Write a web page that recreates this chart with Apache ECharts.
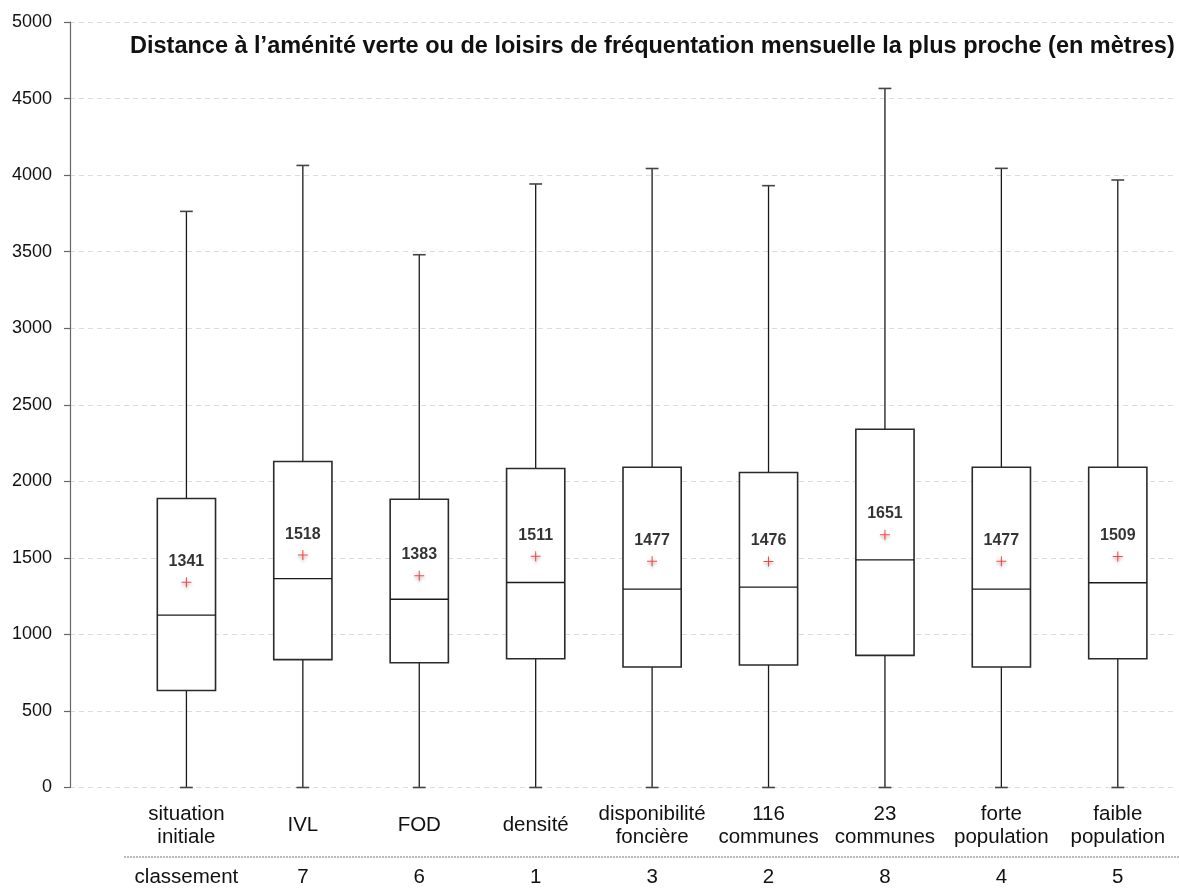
<!DOCTYPE html>
<html>
<head>
<meta charset="utf-8">
<script src="https://cdn.jsdelivr.net/npm/echarts@6/dist/echarts.min.js"></script>
<style>
  html, body { margin: 0; padding: 0; background: #fff; }
  #chart { width: 1179px; height: 888px; }
</style>
</head>
<body>
<div id="chart"></div>
<script>
// Scenario labels (x axis) and their ranking row
const categories = ['situation\ninitiale', 'IVL', 'FOD', 'densité', 'disponibilité\nfoncière',
                    '116\ncommunes', '23\ncommunes', 'forte\npopulation', 'faible\npopulation'];
const ranks = ['classement', '7', '6', '1', '3', '2', '8', '4', '5'];

// Box-plot statistics, distance in metres
const whiskerLow  = [0, 0, 0, 0, 0, 0, 0, 0, 0];
const q1          = [634, 835, 815, 841, 787, 800, 863, 787, 841];
const median      = [1126, 1364, 1230, 1339, 1296, 1309, 1487, 1296, 1337];
const q3          = [1888, 2129, 1883, 2084, 2092, 2057, 2340, 2092, 2092];
const whiskerHigh = [3763, 4063, 3480, 3942, 4043, 3931, 4566, 4044, 3968];
const mean        = [1341, 1518, 1383, 1511, 1477, 1476, 1651, 1477, 1509];

const yTicks = [0, 500, 1000, 1500, 2000, 2500, 3000, 3500, 4000, 4500, 5000];

const FONT = '"Liberation Sans", Arial, Helvetica, sans-serif';

const boxData = categories.map((c, i) => [i, whiskerLow[i], q1[i], median[i], q3[i], whiskerHigh[i]]);
const meanData = mean.map((m, i) => [i, m]);

function renderBox(params, api) {
  const x = api.value(0);
  const low = api.coord([x, api.value(1)]);
  const pq1 = api.coord([x, api.value(2)]);
  const pmed = api.coord([x, api.value(3)]);
  const pq3 = api.coord([x, api.value(4)]);
  const high = api.coord([x, api.value(5)]);
  const boxW = api.size([0.5, 0])[0];
  const capW = api.size([0.11, 0])[0];
  const cx = low[0];
  const lineStyle = { stroke: '#1a1a1a', lineWidth: 1.3, fill: null };
  const boxStyle = { stroke: '#2a2a2a', lineWidth: 1.6, fill: '#fff' };
  return {
    type: 'group',
    children: [
      { type: 'line', shape: { x1: cx, y1: high[1], x2: cx, y2: pq3[1] }, style: lineStyle },
      { type: 'line', shape: { x1: cx, y1: pq1[1], x2: cx, y2: low[1] }, style: lineStyle },
      { type: 'line', shape: { x1: cx - capW / 2, y1: high[1], x2: cx + capW / 2, y2: high[1] }, style: { stroke: '#444', lineWidth: 1.6 } },
      { type: 'line', shape: { x1: cx - capW / 2, y1: low[1], x2: cx + capW / 2, y2: low[1] }, style: { stroke: '#444', lineWidth: 1.6 } },
      { type: 'rect', shape: { x: cx - boxW / 2, y: pq3[1], width: boxW, height: pq1[1] - pq3[1] }, style: boxStyle },
      { type: 'line', shape: { x1: cx - boxW / 2, y1: pmed[1], x2: cx + boxW / 2, y2: pmed[1] }, style: { stroke: '#1a1a1a', lineWidth: 1.4 } }
    ]
  };
}

const chart = echarts.init(document.getElementById('chart'), null, { renderer: 'canvas' });

chart.setOption({
  backgroundColor: '#fff',
  animation: false,
  title: {
    text: 'Distance à l\u2019aménité verte ou de loisirs de fréquentation mensuelle la plus proche (en mètres)',
    left: 125,
    top: 30,
    textStyle: { fontFamily: FONT, fontSize: 23.5, fontWeight: 'bold', color: '#111' }
  },
  grid: { left: 70, right: 0, top: 22, bottom: 99 },
  xAxis: [
    {
      type: 'value', min: -1, max: 8.5, interval: 1,
      axisLine: { show: false }, axisTick: { show: false }, splitLine: { show: false },
      axisLabel: {
        margin: 38, verticalAlign: 'middle', lineHeight: 23,
        fontFamily: FONT, fontSize: 20.5, color: '#111',
        formatter: v => (Number.isInteger(v) && v >= 0 && v < categories.length) ? categories[v] : ''
      }
    },
    {
      type: 'value', min: -1, max: 8.5, interval: 1, position: 'bottom',
      axisLine: { show: false }, axisTick: { show: false }, splitLine: { show: false },
      axisLabel: {
        margin: 90, verticalAlign: 'middle',
        fontFamily: FONT, fontSize: 20.5, color: '#111',
        formatter: v => (Number.isInteger(v) && v >= 0 && v < ranks.length) ? ranks[v] : ''
      }
    }
  ],
  yAxis: {
    type: 'value', min: 0, max: 5000, interval: 500,
    axisLine: { show: true, onZero: false, lineStyle: { color: '#666', width: 1.2 } },
    axisTick: { show: true, length: 6, lineStyle: { color: '#666', width: 1.2 } },
    splitLine: { show: true, lineStyle: { color: '#dcdcdc', type: [5, 4], width: 1 } },
    axisLabel: {
      margin: 18, fontFamily: FONT, fontSize: 18, color: '#111',
      formatter: v => yTicks.includes(v) ? String(v) : ''
    }
  },
  graphic: [
    {
      type: 'line',
      shape: { x1: 124, y1: 857, x2: 1179, y2: 857 },
      style: { stroke: '#777', lineWidth: 1, lineDash: [2, 1] },
      silent: true
    }
  ],
  series: [
    {
      type: 'custom',
      name: 'distribution',
      renderItem: renderBox,
      encode: { x: 0, y: [1, 2, 3, 4, 5] },
      data: boxData,
      z: 2
    },
    {
      // mean marker: red cross with a soft drop shadow
      type: 'scatter',
      name: 'moyenne',
      data: meanData,
      symbol: 'path://M4.5,0h1v10h-1zM0,4.5h10v1h-10z',
      symbolSize: 10,
      itemStyle: {
        color: '#ff1a1a',
        shadowBlur: 3, shadowColor: 'rgba(0,0,0,0.45)', shadowOffsetY: 2
      },
      z: 5
    },
    {
      // mean value written above each marker
      type: 'scatter',
      name: 'moyenne-label',
      data: meanData,
      symbolSize: 1,
      itemStyle: { color: 'rgba(0,0,0,0)' },
      label: {
        show: true, position: 'inside', offset: [0, -21],
        fontFamily: FONT, fontSize: 16, fontWeight: 'bold', color: '#000',
        formatter: p => String(p.value[1])
      },
      z: 6
    }
  ]
});
</script>
</body>
</html>
